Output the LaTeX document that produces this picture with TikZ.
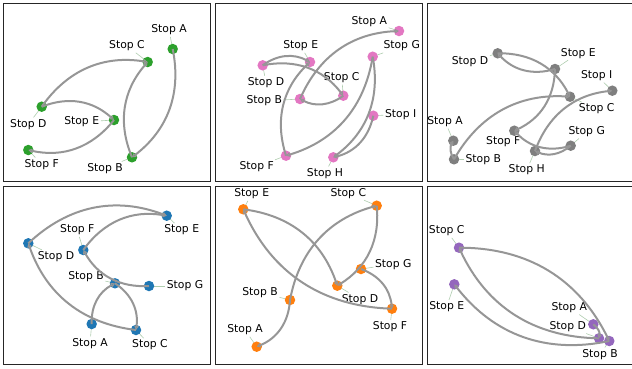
\documentclass[tikz,border=0pt]{standalone}
\usepackage{fontspec}
\setmainfont{DejaVu Sans}
\usetikzlibrary{arrows.meta}

\definecolor{tabgreen}{HTML}{2CA02C}
\definecolor{tabpink}{HTML}{E377C2}
\definecolor{tabgray}{HTML}{7F7F7F}
\definecolor{tabblue}{HTML}{1F77B4}
\definecolor{taborange}{HTML}{FF7F0E}
\definecolor{tabpurple}{HTML}{9467BD}
\definecolor{edgegray}{RGB}{150,150,150}
\definecolor{leadgreen}{RGB}{175,205,175}

\tikzset{
    stop/.style={circle, fill=#1, inner sep=0pt, minimum size=10.5pt},
    lbl/.style={inner sep=1.5pt, font=\fontsize{10.8}{12}\selectfont},
    leader/.style={leadgreen, line width=0.6pt},
    route/.style={edgegray, line width=2pt, bend left=32,
        -{Triangle[open, length=4pt, width=4.5pt]}},
    panel/.style={draw=black!85, line width=0.8pt},
}

\begin{document}
\begin{tikzpicture}[x=1pt, y=1pt]
    \clip (0,0) rectangle (632,-368);

    % panels
    \foreach \xa/\ya/\xb/\yb in {3.5/3.5/210/181.5, 215/3.5/422.5/181.5, 427/3.5/634/181.5,
                                 3.5/186/210/364, 215/186/422.5/364, 427/186/634/364}
        \draw[panel] (\xa,-\ya) rectangle (\xb,-\yb);

    %% stops: name/x/y/label x/label y/text
    \foreach \n/\x/\y/\lx/\ly/\t in {aA/172.7/49/169/30/A, aB/132/157.3/105/168.3/B,
            aC/147.7/62/127/46/C, aD/41.7/106.7/28.3/124.3/D, aE/114/120/81.7/122/E,
            aF/28.3/150/41.7/164.3/F} {
        \coordinate (c\n) at (\x,-\y);
        \node[lbl] (l\n) at (\lx,-\ly) {Stop \t};
        \draw[leader] (l\n) -- (c\n);
        \node[stop=tabgreen] (\n) at (c\n) {};
    }
    \foreach \n/\x/\y/\lx/\ly/\t in {bA/399/31/369.3/21.7/A, bB/300/99/264.3/101/B,
            bC/343.3/95.7/341.7/77.7/C, bD/262.7/65.3/266/82.7/D, bE/310/62/300.7/46/E,
            bF/286/155.7/256.7/166.7/F, bG/372.7/56.7/401.7/46/G, bH/333.3/157.3/325/173.3/H,
            bI/373.3/115.7/400.7/114.3/I} {
        \coordinate (c\n) at (\x,-\y);
        \node[lbl] (l\n) at (\lx,-\ly) {Stop \t};
        \draw[leader] (l\n) -- (c\n);
        \node[stop=tabpink] (\n) at (c\n) {};
    }
    \foreach \n/\x/\y/\lx/\ly/\t in {cA/453.3/140.7/445/121.7/A, cB/454/159.3/483.3/160/B,
            cC/570/96.7/596.7/109/C, cD/497.7/53.3/470/61.7/D, cE/555/69/578.3/53.3/E,
            cF/514.3/130.7/503.3/141.7/F, cG/570.7/145.7/586.7/131.7/G, cH/535/151/526.7/170/H,
            cI/612.3/90.7/596.7/75.7/I} {
        \coordinate (c\n) at (\x,-\y);
        \node[lbl] (l\n) at (\lx,-\ly) {Stop \t};
        \draw[leader] (l\n) -- (c\n);
        \node[stop=tabgray] (\n) at (c\n) {};
    }
    \foreach \n/\x/\y/\lx/\ly/\t in {dA/91.7/324/90/343.3/A, dB/115/283.3/86/276.7/B,
            dC/136/330/150/345/C, dD/28.3/243.3/56/256.7/D, dE/166.7/215.7/181.7/230/E,
            dF/83.3/250/77.3/230/F, dG/149/286/185/286/G} {
        \coordinate (c\n) at (\x,-\y);
        \node[lbl] (l\n) at (\lx,-\ly) {Stop \t};
        \draw[leader] (l\n) -- (c\n);
        \node[stop=tabblue] (\n) at (c\n) {};
    }
    \foreach \n/\x/\y/\lx/\ly/\t in {eA/256.7/346.7/245/330/A, eB/290/300/260/292.3/B,
            eC/376.7/205.7/348.3/193.3/C, eD/337.3/285.7/360/299.3/D, eE/243.3/209.3/251.7/194/E,
            eF/392/308.7/390/326.7/F, eG/361/269/393.3/264.3/G} {
        \coordinate (c\n) at (\x,-\y);
        \node[lbl] (l\n) at (\lx,-\ly) {Stop \t};
        \draw[leader] (l\n) -- (c\n);
        \node[stop=taborange] (\n) at (c\n) {};
    }
    \foreach \n/\x/\y/\lx/\ly/\t in {fA/593.3/324.3/569.3/307.7/A, fB/609.3/341/600/354.3/B,
            fC/459/247.7/446.7/231/C, fD/599/338.3/567.7/326.7/D, fE/454.3/284.3/446.7/306.7/E} {
        \coordinate (c\n) at (\x,-\y);
        \node[lbl] (l\n) at (\lx,-\ly) {Stop \t};
        \draw[leader] (l\n) -- (c\n);
        \node[stop=tabpurple] (\n) at (c\n) {};
    }

    %% routes, all bending the same way
    \foreach \a/\b in {aD/aC, aD/aE, aE/aF, aB/aC, aA/aB,
            bB/bA, bD/bE, bD/bC, bC/bB, bF/bE, bG/bF, bG/bH, bI/bH,
            cE/cD, cD/cC, cE/cF, cB/cC, cB/cA, cH/cI, cG/cF, cG/cH,
            dD/dE, dF/dE, dG/dF, dC/dD, dA/dB, dB/dC,
            eE/eD, eF/eE, eB/eC, eB/eA, eC/eD, eG/eF,
            fC/fB, fD/fC, fB/fE, fA/fD}
        \draw[route] (\a.center) to (\b.center);
\end{tikzpicture}
\end{document}
